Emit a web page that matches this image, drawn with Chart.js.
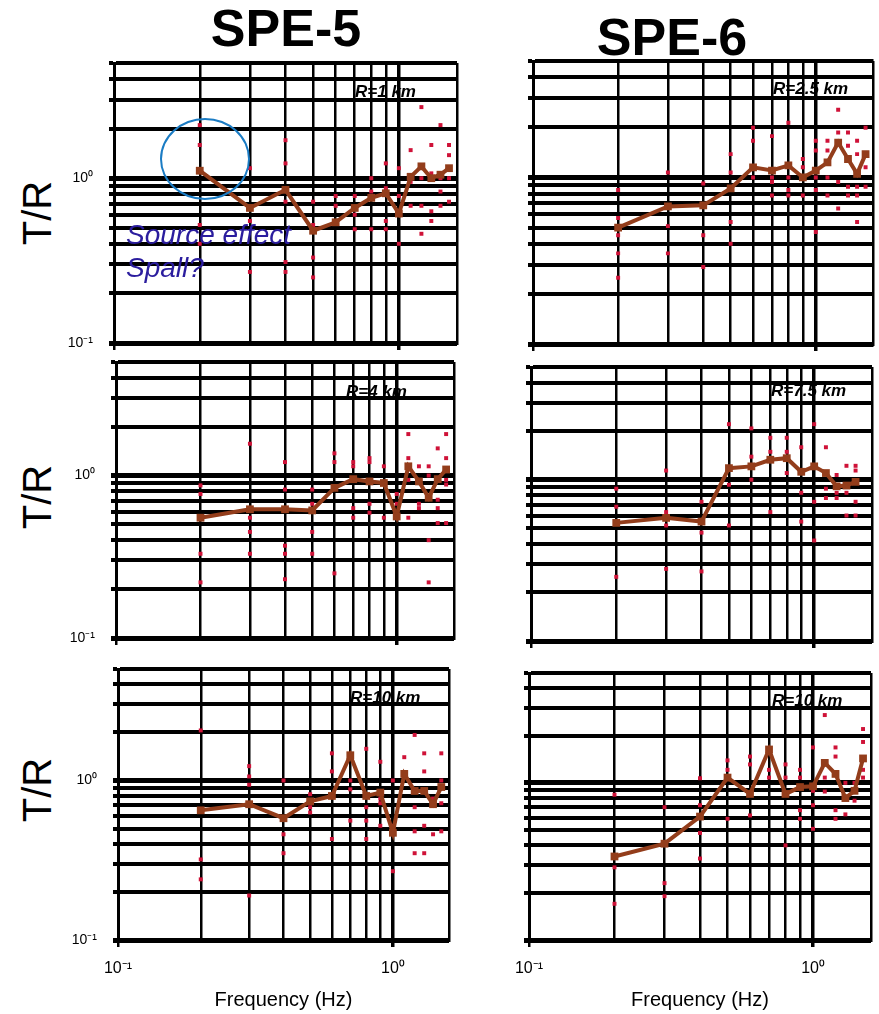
<!DOCTYPE html>
<html>
<head>
<meta charset="utf-8">
<script src="https://cdn.jsdelivr.net/npm/chart.js@4.4.0/dist/chart.umd.min.js"></script>
<style>
  body { margin: 0; background: #fff; width: 879px; height: 1014px; position: relative; overflow: hidden;
         font-family: Arial, "Liberation Sans", sans-serif; }
  canvas { position: absolute; }
  .ttl { position: absolute; font-weight: bold; font-size: 52px; line-height: 1; transform: translateX(-50%); }
  .tr { position: absolute; font-size: 40px; line-height: 1; transform: translate(-50%, -50%) rotate(-90deg); }
  .lab { position: absolute; font-weight: bold; font-style: italic; font-size: 17px; line-height: 1; }
  .note { position: absolute; font-style: italic; font-size: 28px; line-height: 1; color: #2b1d9e; }
  #ring { position: absolute; left: 160px; top: 118px; width: 86px; height: 78px; border: 2px solid #1b7cc4; border-radius: 50%; }
</style>
</head>
<body>

<div class="ttl" style="left:286px; top:2px;">SPE-5</div>
<div class="ttl" style="left:672px; top:11px;">SPE-6</div>
<div class="tr" style="left:37px; top:213px;">T/R</div>
<div class="tr" style="left:37px; top:497px;">T/R</div>
<div class="tr" style="left:37px; top:790px;">T/R</div>

<canvas id="c1"></canvas>
<canvas id="c2"></canvas>
<canvas id="c3"></canvas>
<canvas id="c4"></canvas>
<canvas id="c5"></canvas>
<canvas id="c6"></canvas>

<div class="lab" style="left:355px; top:83px;">R=1 km</div>
<div class="lab" style="left:773px; top:80px;">R=2.5 km</div>
<div class="lab" style="left:346px; top:383px;">R=4 km</div>
<div class="lab" style="left:771px; top:382px;">R=7.5 km</div>
<div class="lab" style="left:350px; top:689px;">R=10 km</div>
<div class="lab" style="left:772px; top:692px;">R=10 km</div>

<div id="ring"></div>
<div class="note" style="left:126px; top:221px;">Source effect</div>
<div class="note" style="left:126px; top:254px;">Spall?</div>

<script>
// frequencies (Hz) shared by all panels
var freqs = [0.2, 0.3, 0.4, 0.5, 0.6, 0.7, 0.8, 0.9, 1.0, 1.1, 1.2, 1.3, 1.4, 1.5];
var xTickVals = [0.1, 0.2, 0.3, 0.4, 0.5, 0.6, 0.7, 0.8, 0.9, 1];
var yTickVals = [0.1, 0.2, 0.3, 0.4, 0.5, 0.6, 0.7, 0.8, 0.9, 1, 2, 3, 4, 5];

// mean T/R (brown line)
var spe5Mean1 = [1.11, 0.66, 0.85, 0.48, 0.54, 0.66, 0.76, 0.81, 0.61, 1.02, 1.18, 1.0, 1.05, 1.15];
var spe6Mean1 = [0.50, 0.67, 0.68, 0.86, 1.15, 1.10, 1.18, 1.0, 1.10, 1.23, 1.62, 1.29, 1.05, 1.38];
var spe5Mean2 = [0.55, 0.62, 0.62, 0.61, 0.84, 0.95, 0.92, 0.90, 0.56, 1.14, 0.92, 0.73, 0.95, 1.09];
var spe6Mean2 = [0.54, 0.58, 0.55, 1.18, 1.21, 1.33, 1.36, 1.12, 1.21, 1.10, 0.91, 0.92, 0.97, null];
var spe5Mean3 = [0.65, 0.71, 0.58, 0.74, 0.80, 1.44, 0.80, 0.84, 0.47, 1.10, 0.86, 0.86, 0.71, 0.91];
var spe6Mean3 = [0.34, 0.41, 0.61, 1.08, 0.85, 1.63, 0.85, 0.94, 0.95, 1.34, 1.14, 0.80, 0.89, 1.43];

// single-station T/R (red squares), one list per frequency
var spe5Sta1 = [[2.10, 1.59, 0.52, 0.40], [1.15, 0.55, 0.27], [1.70, 1.23, 0.72, 0.31, 0.27], [0.72, 0.52, 0.33, 0.25],
  [0.78, 0.68], [0.78, 0.60, 0.49], [1.0, 0.83, 0.49], [1.23, 0.87, 0.55, 0.49], [1.15, 0.78, 0.40],
  [1.48, 0.95, 0.68], [2.70, 1.0, 0.68, 0.46], [1.59, 1.07, 0.63, 0.55], [2.10, 1.0, 0.83, 0.68], [1.59, 1.38, 1.0, 0.72]];
var spe6Sta1 = [[0.84, 0.57, 0.45, 0.35, 0.25], [1.07, 0.51, 0.35], [0.92, 0.45, 0.29], [1.38, 1.07, 0.54, 0.40],
  [1.99, 1.66, 1.0], [1.77, 1.0, 0.94, 0.78], [2.13, 1.0, 0.84, 0.78], [1.29, 1.15, 0.78], [1.66, 1.45, 1.0, 0.84, 0.47],
  [1.66, 1.45, 1.0, 0.78], [2.55, 1.86, 0.94, 0.65], [1.86, 1.55, 0.88, 0.78], [1.66, 1.38, 0.88, 0.78, 0.54], [1.99, 1.15, 0.88]];
var spe5Sta2 = [[0.87, 0.77, 0.33, 0.22], [1.57, 0.55, 0.45, 0.33], [1.21, 0.82, 0.37, 0.33, 0.23], [0.82, 0.67, 0.45, 0.33],
  [1.37, 1.21, 0.25], [1.21, 1.14, 0.63, 0.55], [1.28, 1.21, 0.67, 0.59], [1.14, 0.55], [0.77, 0.67],
  [1.80, 1.28, 0.94, 0.55], [1.14, 0.67, 0.63], [1.14, 1.0, 0.40, 0.22], [1.47, 0.71, 0.63, 0.51], [1.80, 1.28, 0.94, 0.88, 0.51]];
var spe6Sta2 = [[0.88, 0.68, 0.25], [1.14, 0.63, 0.52, 0.28], [0.73, 0.47, 0.27], [2.21, 0.93, 0.52],
  [2.08, 1.39, 1.0], [1.82, 1.49, 0.63], [1.82, 1.49, 1.10], [1.59, 0.83, 0.55], [2.21, 0.73, 0.42],
  [1.59, 0.88, 0.77], [1.07, 0.83, 0.77], [1.22, 0.83, 0.60], [1.22, 1.14, 0.73, 0.60], []];
var spe5Sta3 = [[2.06, 0.32, 0.24], [1.23, 1.06, 0.94, 0.19], [1.0, 0.46, 0.35], [0.82, 0.68, 0.63],
  [1.48, 1.14, 0.43], [1.0, 0.88, 0.56], [1.58, 0.68, 0.56, 0.43], [1.31, 0.77, 0.72, 0.52], [1.0, 0.52, 0.27],
  [1.40], [1.93, 0.68, 0.48, 0.35], [1.48, 1.14, 0.52, 0.35], [0.77, 0.46], [1.48, 1.0, 0.72, 0.48]];
var spe6Sta3 = [[0.84, 0.29, 0.17], [0.70, 0.23, 0.19], [1.07, 0.72, 0.48, 0.33], [1.39, 1.21, 0.59],
  [1.47, 1.31, 0.62], [1.21, 1.08], [1.31, 1.08, 0.40], [1.21, 1.08, 0.67, 0.59], [1.68, 0.89, 0.72, 0.51],
  [2.70, 1.08, 0.88], [1.68, 1.47, 0.67, 0.59], [1.0, 0.63], [1.0, 0.77], [2.20, 1.82, 1.21, 1.08]];

// canvas boxes and plot areas in page pixels
var panels = [
  { id: 'c1', cx: 40,  cy: 48,  cw: 430, ch: 304, L: 114, T: 63,  R: 457, B: 343, mean: spe5Mean1, sta: spe5Sta1, yLabels: true,  xLabels: false },
  { id: 'c2', cx: 480, cy: 48,  cw: 399, ch: 304, L: 533, T: 61,  R: 875, B: 344, mean: spe6Mean1, sta: spe6Sta1, yLabels: false, xLabels: false },
  { id: 'c3', cx: 40,  cy: 352, cw: 430, ch: 300, L: 116, T: 362, R: 454, B: 638, mean: spe5Mean2, sta: spe5Sta2, yLabels: true,  xLabels: false },
  { id: 'c4', cx: 480, cy: 352, cw: 399, ch: 300, L: 531, T: 367, R: 872, B: 641, mean: spe6Mean2, sta: spe6Sta2, yLabels: false, xLabels: false },
  { id: 'c5', cx: 40,  cy: 652, cw: 430, ch: 362, L: 118, T: 669, R: 449, B: 940, mean: spe5Mean3, sta: spe5Sta3, yLabels: true,  xLabels: true },
  { id: 'c6', cx: 480, cy: 652, cw: 399, ch: 362, L: 529, T: 673, R: 871, B: 940, mean: spe6Mean3, sta: spe6Sta3, yLabels: false, xLabels: true }
];

var brown = '#933d1b';
var red = '#cf1238';

function isMajor(v) { return v === 1 || v === 0.1; }
function decadeLabel(v) { return v === 1 ? '10\u2070' : (v === 0.1 ? '10\u207B\u00B9' : ''); }

panels.forEach(function (p) {
  var cv = document.getElementById(p.id);
  cv.width = p.cw; cv.height = p.ch;
  cv.style.left = p.cx + 'px'; cv.style.top = p.cy + 'px';

  var meanPts = [];
  freqs.forEach(function (f, i) { if (p.mean[i] != null) meanPts.push({ x: f, y: p.mean[i] }); });
  var staPts = [];
  p.sta.forEach(function (g, i) { g.forEach(function (v) { staPts.push({ x: freqs[i], y: v }); }); });

  new Chart(cv, {
    type: 'line',
    data: {
      datasets: [{
        data: meanPts,
        borderColor: brown,
        backgroundColor: brown,
        borderWidth: 4,
        pointStyle: 'rect',
        pointRadius: 5.5,
        pointBorderWidth: 0
      }, {
        data: staPts,
        showLine: false,
        borderColor: red,
        backgroundColor: red,
        pointStyle: 'rect',
        pointRadius: 2.8,
        pointBorderWidth: 0
      }]
    },
    options: {
      responsive: false,
      animation: false,
      layout: { padding: { top: p.T - p.cy, right: p.cx + p.cw - p.R, left: 0, bottom: 0 } },
      plugins: { legend: { display: false }, tooltip: { enabled: false } },
      scales: {
        x: {
          type: 'logarithmic',
          min: 0.1,
          max: 1.6,
          afterBuildTicks: function (ax) {
            ax.ticks = xTickVals.concat([ax.max]).map(function (v) { return { value: v }; });
          },
          afterFit: function (ax) {
            ax.height = p.cy + p.ch - p.B;
            ax.paddingLeft = 0; ax.paddingRight = 0;
          },
          border: { display: true, color: '#000', width: 4 },
          grid: {
            color: '#000',
            lineWidth: function (c) { return c.tick && c.tick.value === 1 ? 3.5 : 2.5; },
            tickLength: 7,
            tickColor: function (c) { return c.tick && isMajor(c.tick.value) ? '#000' : 'rgba(0,0,0,0)'; }
          },
          ticks: {
            display: p.xLabels,
            autoSkip: false,
            maxRotation: 0,
            padding: 12,
            color: '#000',
            font: { family: 'Arial, "Liberation Sans", sans-serif', size: 16 },
            callback: function (v) { return decadeLabel(v); }
          },
          title: {
            display: p.xLabels,
            text: 'Frequency (Hz)',
            color: '#000',
            padding: { top: 0, bottom: 2 },
            font: { family: 'Arial, "Liberation Sans", sans-serif', size: 20 }
          }
        },
        y: {
          type: 'logarithmic',
          min: 0.1,
          max: 5,
          afterBuildTicks: function (ax) {
            ax.ticks = yTickVals.map(function (v) { return { value: v }; });
          },
          afterFit: function (ax) {
            ax.width = p.L - p.cx;
            ax.paddingTop = 0; ax.paddingBottom = 0;
          },
          border: { display: true, color: '#000', width: 3 },
          grid: {
            color: '#000',
            lineWidth: function (c) { return c.tick && isMajor(c.tick.value) ? 5 : 4; },
            tickLength: 5
          },
          ticks: {
            display: p.yLabels,
            autoSkip: false,
            padding: 16,
            color: '#000',
            font: { family: 'Arial, "Liberation Sans", sans-serif', size: 14 },
            callback: function (v) { return decadeLabel(v); }
          }
        }
      }
    }
  });
});
</script>
</body>
</html>
